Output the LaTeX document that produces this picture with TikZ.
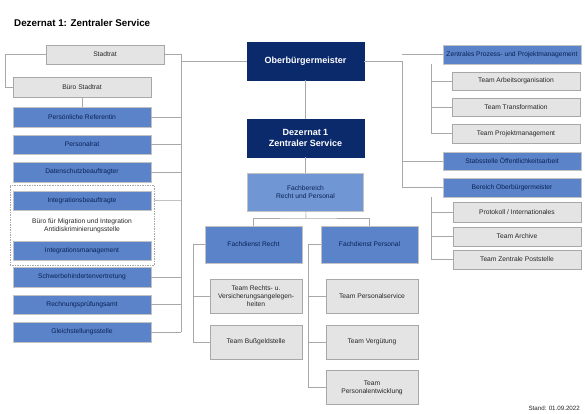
\documentclass[tikz,border=0pt]{standalone}
\usepackage{fontspec}
\setmainfont{Liberation Sans}
\usetikzlibrary{fit}
\definecolor{navy}{HTML}{0B2A6C}
\definecolor{midblue}{HTML}{5B83C9}
\definecolor{lightblue}{HTML}{7196D4}
\definecolor{boxgray}{HTML}{E4E4E4}
\definecolor{linegray}{HTML}{A8A8A8}
\tikzset{
	leader/.style={draw=navy, fill=navy, text=white, font=\fontsize{9}{10.5}\bfseries\selectfont, align=center, minimum width=117pt, minimum height=38pt, inner sep=1pt},
	unit/.style={draw=linegray!70, fill=midblue, text=navy!80!black, font=\fontsize{6.7}{7.8}\selectfont, minimum width=138pt, minimum height=19.5pt, inner sep=1pt, align=center},
	team/.style={draw=linegray, fill=boxgray, text=black!85, font=\fontsize{6.7}{7.8}\selectfont, align=center, inner sep=1pt},
	link/.style={draw=linegray, line width=0.6pt}
}
\begin{document}
\begin{tikzpicture}[x=1pt, y=-1pt, node distance=27.5pt]
	\useasboundingbox (0,0) rectangle (585,414);
	\node (title) [anchor=west, font=\fontsize{9.8}{11}\bfseries\selectfont, inner sep=0pt] at (14,23) {Dezernat 1: Zentraler Service};
	% Leitung
	\node (ob) [leader] at (305.5,61) {Oberbürgermeister};
	\node (dez) [leader, below of = ob, yshift=-49.5pt] {Dezernat 1\\Zentraler Service};
	\node (fb) [unit, fill=lightblue, minimum width=116pt, minimum height=38pt, below of = dez, yshift=-26.5pt] {Fachbereich\\Recht und Personal};
	\node (fr) [unit, minimum width=97pt, minimum height=37pt] at (253.5,244.5) {Fachdienst Recht};
	\node (fp) [unit, minimum width=97pt, minimum height=37pt] at (369.5,244.5) {Fachdienst Personal};
	% Teams der Fachdienste
	\node (tr) [team, minimum width=92pt, minimum height=34pt] at (256,296) {Team Rechts- u.\\Versicherungsangelegen-\\heiten};
	\node (tb) [team, minimum width=92pt, minimum height=34pt, below of = tr, yshift=-18.5pt] {Team Bußgeldstelle};
	\node (tps) [team, minimum width=92pt, minimum height=34pt] at (372,296) {Team Personalservice};
	\node (tv) [team, minimum width=92pt, minimum height=34pt, below of = tps, yshift=-18.5pt] {Team Vergütung};
	\node (tpe) [team, minimum width=92pt, minimum height=34pt, below of = tv, yshift=-18pt] {Team\\Personalentwicklung};
	% linke Spalte
	\node (st) [team, minimum width=118pt, minimum height=19pt] at (105,54.5) {Stadtrat};
	\node (bs) [team, minimum width=138pt, minimum height=20pt] at (82,87) {Büro Stadtrat};
	\node (pref) [unit, below of = bs, yshift=-2.5pt] {Persönliche Referentin};
	\node (prat) [unit, below of = pref] {Personalrat};
	\node (ds) [unit, below of = prat] {Datenschutzbeauftragter};
	\node (intb) [unit, below of = ds, yshift=-1pt] {Integrationsbeauftragte};
	\node (intm) [unit, below of = intb, yshift=-22.5pt] {Integrationsmanagement};
	\node (mig) [draw=linegray, dashed, dash pattern=on 1.5pt off 1pt, inner xsep=3pt, inner ysep=5pt, fit=(intb)(intm)] {};
	\node (migtxt) [font=\fontsize{6.7}{7.8}\selectfont, align=center, text=black!85] at (mig.center) {Büro für Migration und Integration\\Antidiskriminierungsstelle};
	\node (swb) [unit, below of = intm, yshift=1pt] {Schwerbehindertenvertretung};
	\node (rpa) [unit, below of = swb] {Rechnungsprüfungsamt};
	\node (gls) [unit, below of = rpa] {Gleichstellungsstelle};
	% rechte Spalte
	\node (zpp) [unit] at (512,54.5) {Zentrales Prozess- und Projektmanagement};
	\node (tao) [team, minimum width=128pt, minimum height=18.5pt] at (516,81) {Team Arbeitsorganisation};
	\node (ttf) [team, minimum width=128pt, minimum height=18.5pt, below of = tao, yshift=1.5pt] {Team Transformation};
	\node (tpm) [team, minimum width=128pt, minimum height=18.5pt, below of = ttf, yshift=1pt] {Team Projektmanagement};
	\node (sto) [unit, minimum height=18.5pt] at (512,161) {Stabsstelle Öffentlichkeitsarbeit};
	\node (bob) [unit, below of = sto, yshift=1pt] {Bereich Oberbürgermeister};
	\node (pi) [team, minimum width=128pt, minimum height=20pt] at (517,212) {Protokoll / Internationales};
	\node (tar) [team, minimum width=128pt, minimum height=19pt, below of = pi, yshift=3pt] {Team Archive};
	\node (tzp) [team, minimum width=128pt, minimum height=19pt, below of = tar, yshift=4.5pt] {Team Zentrale Poststelle};
	\node (stand) [anchor=east, font=\fontsize{6.2}{7}\selectfont, text=black!85, inner sep=0pt] at (580,408) {Stand: 01.09.2022};
	% Hilfspunkte
	\coordinate (lbus) at (181,0);
	\coordinate (ledge) at (5,0);
	\coordinate (rbus) at (402,0);
	\coordinate (rsub) at (431,0);
	\coordinate (frsub) at (193,0);
	\coordinate (fpsub) at (308,0);
	\coordinate (fbus) at (306,218);
	% Verbindungen
	\draw [link] (st.west) -- (st.west -| ledge) |- (bs.west);
	\draw [link] (bs) -- (pref);
	\draw [link] (st.east) -| (gls.east -| lbus);
	\draw [link] (ob.west) -- (ob.west -| lbus);
	\foreach \n in {pref, prat, ds, swb, rpa, gls}
		\draw [link] (\n.east) -- (\n.east -| lbus);
	\draw [link, draw=linegray!70] (mig.east |- intb) -- (intb -| lbus);
	\draw [link] (ob) -- (dez);
	\draw [link] (dez) -- (fb);
	\draw [link] (fb) -- (fbus);
	\draw [link] (fr.north) |- (fbus) -| (fp.north);
	\draw [link] (fr.west) -| (frsub |- tb) -- (tb.west);
	\draw [link] (tr.west) -- (tr.west -| frsub);
	\draw [link] (fp.west) -| (fpsub |- tpe) -- (tpe.west);
	\foreach \n in {tps, tv}
		\draw [link] (\n.west) -- (\n.west -| fpsub);
	\draw [link] (ob.east) -| (rbus |- bob) -- (bob.west);
	\draw [link] (zpp.west) -- (zpp.west -| rbus);
	\draw [link] (sto.west) -- (sto.west -| rbus);
	\draw [link] (zpp.south -| rsub) |- (tpm.west);
	\foreach \n in {tao, ttf}
		\draw [link] (\n.west) -- (\n.west -| rsub);
	\draw [link] (bob.south -| rsub) |- (tzp.west);
	\foreach \n in {pi, tar}
		\draw [link] (\n.west) -- (\n.west -| rsub);
\end{tikzpicture}
\end{document}
